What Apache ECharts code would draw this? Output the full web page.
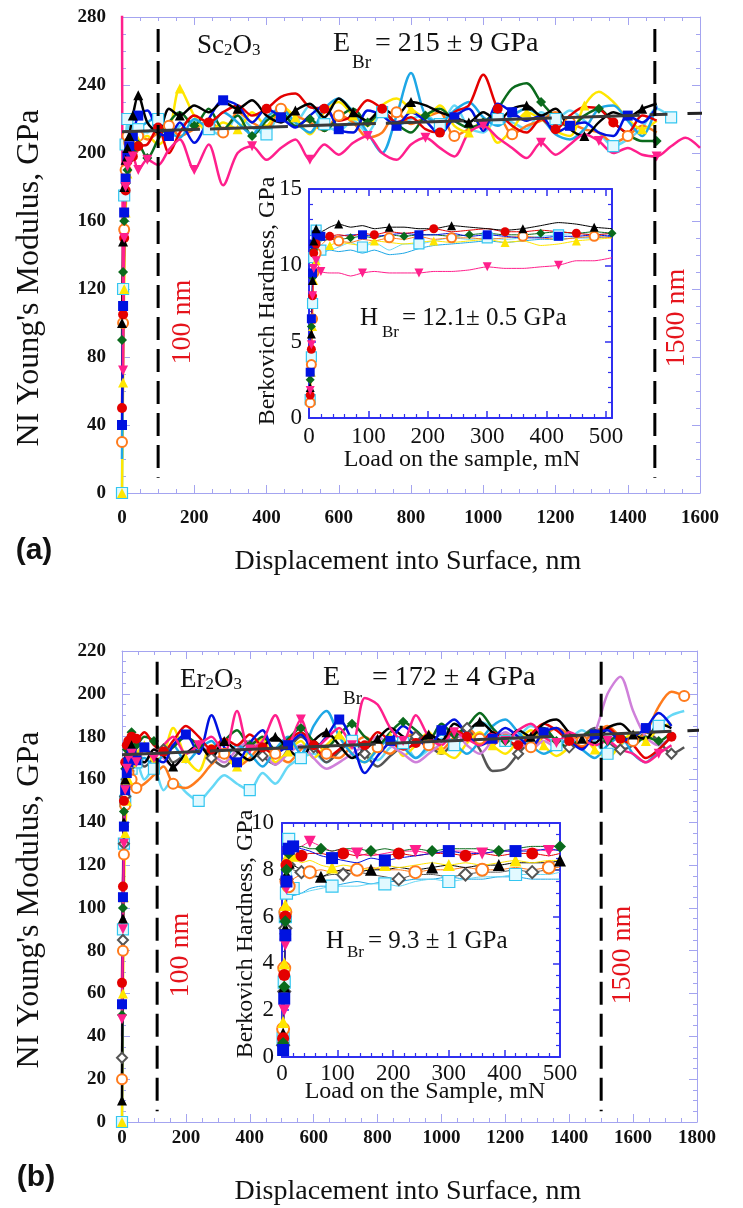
<!DOCTYPE html>
<html>
<head>
<meta charset="utf-8">
<script src="https://cdn.jsdelivr.net/npm/echarts@6/dist/echarts.min.js"></script>
<style>
html,body{margin:0;padding:0;background:#fff;}
#c{width:743px;height:1208px;}
</style>
</head>
<body>
<div id="c"></div>
<script>
// ---------- (a) Sc2O3 : modulus vs displacement ----------
const dispA = [0,3,6,10,15,20,30,45,70,100,130,160,200,240,280,320,360,400,440,480,520,560,600,640,680,720,760,800,840,880,920,960,1000,1040,1080,1120,1160,1200,1240,1280,1320,1360,1400,1440,1480,1520,1560,1600];
const blackA  = [100,148,180,196,203,210,222,234, 218,212,226,222, 228,224,230,226,231,222,218,225,229,221,232,224,219,226,222,230,228,224,221,218,224,219,226,228,222,226,214,210,218,224,221,226,229];
const blueA   = [40,110,165,185,198,204,210,222, 225,212,210,218, 206,220,231,228,218,226,221,215,222,228,214,212,225,222,216,224,219,211,221,226,213,229,224,219,222,212,216,218,212,210,222,218,227];
const cyanSqA = [0,120,175,205,220,210,205,214, 212,220,208,216, 219,214,210,222,215,211,224,218,228,217,213,219,212,224,216,220,222,217,228,215,212,220,218,214,224,220,225,219,212,204,208,215,226,221];
const redA    = [50,105,150,178,195,200,198,204, 205,215,200,212, 222,218,224,228,222,226,233,235,227,226,219,222,231,226,218,221,214,212,224,228,246,226,216,212,220,214,222,227,226,218,212,222,219];
const greenA  = [90,130,160,182,190,196,201,205, 197,208,218,224, 216,226,214,222,210,219,224,216,220,213,221,226,218,224,217,212,222,226,219,215,218,226,238,241,230,221,215,222,226,218,211,207,207];
const yellowA = [0,65,120,165,188,202,204,207, 210,205,212,238, 222,212,218,214,224,216,228,221,211,224,230,222,216,228,232,226,221,228,216,212,220,206,214,224,220,213,210,228,236,230,220,214,219];
const orangeA = [30,100,155,190,210,206,202,210, 208,212,216,210, 214,219,212,224,218,214,226,222,218,213,222,218,209,212,224,217,221,224,210,214,218,222,211,216,219,224,218,214,212,206,210,216,212];
const pinkA   = [300,72,150,180,192,195,198,190, 196,193,202,208, 190,205,181,200,204,196,203,208,196,205,199,206,210,200,196,205,209,203,198,212,216,209,203,197,206,199,205,211,207,200,203,199,198,204,209,203];
const skyA    = [20,90,150,185,200,210,212,215, 218,222,213,209, 220,215,224,218,211,221,226,218,212,226,232,224,212,200,222,247,222,218,225,230,221,216,222,226,221,211,208,214,226,228,219,210,228];
// fitted average line: inner part and its dashed extensions
const fitA      = [[0,212.5],[1510,222.8]];
const fitAOutL  = [[-235,210.9],[0,212.5]];
const fitAOutR  = [[1510,222.8],[1720,224.2]];
const markA     = [100,1475];   // depth window, nm

// ---------- (a) inset : hardness vs load ----------
const loadA = [2,4,6,8,12,20,35,50,70,90,110,135,160,185,210,240,270,300,330,360,390,420,450,480,510];
const blackIA  = [2.0,5.5,9.0,11.6,12.4,12.2,12.5,12.7,12.5,12.6,12.4,12.5,12.5,12.4,12.4,12.6,12.5,12.4,12.3,12.4,12.6,12.8,12.7,12.5,12.4];
const redIA    = [1.5,4.5,8.0,10.8,11.4,11.7,11.9,12.0,11.9,12.1,12.0,12.2,12.1,12.2,12.4,12.2,12.3,12.4,12.2,12.2,12.3,12.2,12.1,12.0,12.1];
const blueIA   = [3.0,6.5,9.5,11.4,12.0,11.9,11.8,11.9,12.0,12.0,11.9,12.0,12.1,12.0,12.0,12.1,11.9,12.0,11.9,11.8,11.8,11.9,11.9,12.0,11.9];
const greenIA  = [2.5,6.0,9.2,11.0,11.5,11.6,11.7,11.7,11.8,11.9,11.8,12.0,11.9,12.0,12.0,11.9,12.0,12.1,12.0,12.0,12.1,12.2,12.1,12.2,12.1];
const cyanSqIA = [1.2,4.0,7.5,10.5,12.3,11.0,11.0,11.2,11.5,11.2,11.5,11.0,11.4,11.4,11.6,11.8,11.7,11.8,11.7,11.8,11.9,12.0,12.1,12.0,12.1];
const orangeIA = [1.0,3.5,6.5,9.5,10.8,11.3,11.8,11.6,11.5,11.7,11.6,11.8,11.7,11.9,11.7,11.8,11.8,11.7,11.8,11.9,11.8,11.7,11.8,11.9,11.8];
const yellowIA = [1.3,3.0,6.0,9.0,10.3,10.8,11.3,11.5,11.4,11.3,11.6,11.5,11.4,11.5,11.6,11.5,11.6,11.7,11.5,11.6,11.3,11.4,11.6,11.7,11.8];
const skyIA    = [2.2,5.0,8.5,10.5,10.8,10.8,11.0,10.9,11.0,10.8,11.0,10.7,10.8,11.1,11.3,11.4,11.5,11.6,11.5,11.6,11.7,11.7,11.8,11.8,11.9];
const pinkIA   = [1.8,4.8,8.0,9.8,10.3,9.6,9.5,9.5,9.3,9.5,9.6,9.5,9.5,9.5,9.6,9.6,9.7,9.9,9.8,9.8,9.9,10.0,10.3,10.3,10.5];

// ---------- (b) Er2O3 : modulus vs displacement ----------
const dispB = [0,3,6,10,15,20,30,45,70,100,130,160,200,240,280,320,360,400,440,480,520,560,600,640,680,720,760,800,840,880,920,960,1000,1040,1080,1120,1160,1200,1240,1280,1320,1360,1400,1440,1480,1520,1560,1600,1640,1680,1720,1760];
const blackB  = [10,95,140,160,168,172,176,170, 168,174,171,166, 172,176,170,178,173,169,175,180,174,170,178,182,176,170,174,179,184,180,176,181,178,186,183,187,182,178,183,180,186,188,182,179,177,184,186,181,179,186,184];
const blueB   = [55,105,138,155,163,168,172,169, 175,170,168,176, 181,172,190,175,168,177,183,172,176,181,174,180,188,178,163,171,178,185,180,175,183,188,181,176,179,184,180,175,182,184,178,174,181,183,178,180,184,191,185];
const cyanSqB = [0,90,130,150,158,162,165,168, 160,165,155,160, 154,150,156,162,158,155,163,158,166,170,172,168,174,178,172,169,175,177,170,174,179,176,181,187,184,178,180,185,182,176,179,183,178,172,176,180,178,185,190,192];
const redB    = [65,110,150,168,176,178,180,179, 182,176,173,178, 185,180,174,179,176,181,175,172,178,182,176,170,174,179,176,182,178,174,177,181,178,183,180,177,182,179,176,181,186,183,178,175,180,184,179,176,170,174,180];
const greenB  = [50,100,145,165,174,178,182,176, 180,178,172,175, 180,176,172,178,183,176,180,174,179,184,178,175,181,186,180,176,182,187,183,178,186,181,185,191,184,178,176,180,184,178,175,180,183,178,181,176,180,178,182];
const yellowB = [0,60,105,135,150,160,168,172, 176,168,172,184, 170,164,176,171,166,174,179,168,173,178,170,176,181,172,168,175,180,171,176,182,174,170,177,182,176,172,178,183,176,171,175,180,174,170,176,182,178,184,186];
const orangeB = [20,80,125,148,158,163,160,156, 158,162,166,158, 156,160,167,172,166,170,176,172,168,174,178,172,170,176,180,175,172,178,182,176,174,180,184,179,176,181,178,175,180,184,181,178,182,185,180,178,182,194,201,199];
const pinkB   = [48,90,130,155,165,170,172,168, 174,170,176,180, 172,176,180,172,192,174,178,190,176,188,174,179,184,176,198,195,184,178,190,180,176,182,179,176,181,178,183,186,180,177,182,179,176,178,174,172,168,172,176];
const grayB   = [30,85,130,152,160,164,167,170, 166,170,174,168, 172,176,170,166,172,178,171,167,174,180,175,168,173,178,172,166,171,176,180,176,172,178,184,174,164,165,172,178,183,178,175,180,184,178,174,176,182,178,172,175];
const orchidB = [40,95,135,158,166,170,173,171, 168,174,170,166, 172,176,172,168,174,178,173,167,172,176,170,165,168,172,176,180,176,172,168,172,177,182,176,172,178,182,178,174,178,175,180,176,182,200,208,192,180,176,180];
const skyB    = [20,85,130,152,160,163,166,168, 170,166,172,176, 168,174,178,170,176,172,166,174,180,172,185,192,180,172,168,174,179,175,170,176,181,177,172,178,185,188,182,176,172,175,179,174,170,176,180,172,168,174,180];
const fitB      = [[0,171.5],[1720,182.5]];
const fitBOutL  = [[-210,170.2],[0,171.5]];
const fitBOutR  = [[1720,182.5],[1950,183.8]];
const markB     = [110,1500];

// ---------- (b) inset : hardness vs load ----------
const loadB = [2,4,6,8,12,20,35,50,70,90,110,135,160,185,210,240,270,300,330,360,390,420,450,480,500];
const blueIB   = [0.3,2.5,5.2,7.5,8.9,9.0,8.9,8.8,8.6,8.5,8.4,8.3,8.5,8.4,8.5,8.6,8.7,8.8,8.7,8.7,8.8,8.8,8.8,8.9,8.8];
const greenIB  = [0.6,3.0,5.8,8.0,8.7,8.9,9.0,8.9,8.9,8.8,8.9,8.9,8.8,8.9,8.8,8.9,8.8,8.9,8.9,8.9,8.8,8.9,9.0,9.0,9.0];
const pinkIB   = [0.4,2.0,4.8,7.2,8.7,8.9,9.0,9.2,9.0,8.8,8.9,8.7,8.6,8.7,8.8,8.8,8.7,8.8,8.8,8.7,8.8,8.8,8.9,8.8,8.9];
const redIB    = [0.8,3.5,6.0,8.2,8.8,8.7,8.6,8.7,8.7,8.6,8.7,8.6,8.7,8.6,8.7,8.6,8.7,8.7,8.6,8.7,8.6,8.7,8.7,8.6,8.7];
const yellowIB = [1.5,4.0,6.5,8.5,9.0,8.6,8.3,8.4,8.2,8.1,8.2,8.1,8.0,8.2,8.1,8.2,8.3,8.2,8.3,8.2,8.3,8.4,8.3,8.4,8.4];
const blackIB  = [1.0,3.0,5.5,7.8,8.3,8.2,8.0,7.8,7.7,7.9,8.0,7.9,8.0,8.0,8.1,8.0,8.1,8.2,8.1,8.2,8.2,8.3,8.3,8.3,8.4];
const orangeIB = [1.2,3.8,6.2,7.5,7.3,7.6,7.8,7.9,8.0,7.9,8.0,8.0,8.1,8.0,8.0,7.9,8.0,8.0,8.1,8.0,8.0,8.1,8.0,8.1,8.1];
const grayIB   = [0.5,2.8,5.5,7.6,8.2,8.0,7.9,7.7,7.7,7.8,7.8,7.9,7.8,7.7,7.6,7.8,7.8,7.7,7.8,7.9,7.9,8.0,7.9,8.0,8.0];
const cyanSqIB = [0.8,3.2,6.0,7.0,9.3,7.2,7.0,7.1,7.2,7.3,7.3,7.3,7.4,7.4,7.3,7.5,7.6,7.5,7.6,7.7,7.7,7.8,7.8,7.8,7.9];
const skyIB    = [0.6,2.2,4.5,6.5,7.0,6.9,7.0,7.2,7.3,7.3,7.4,7.5,7.4,7.5,7.5,7.6,7.6,7.7,7.6,7.6,7.7,7.7,7.6,7.6,7.6];

// ---------- styling ----------
const SERIF = '"Liberation Serif","Times New Roman",serif';
const C = {
  black:  {symbol:'triangle', fill:'#000000', line:'#000000'},
  blue:   {symbol:'rect', fill:'#0012e0', line:'#0012e0'},
  cyanSq: {symbol:'rect', fill:'#e2f9ff', border:'#34c6f0', bw:1.2, line:'#66d8f6'},
  red:    {symbol:'circle', fill:'#e40000', line:'#e40000'},
  green:  {symbol:'diamond', fill:'#0a6a1c', line:'#0a6a1c'},
  yellow: {symbol:'triangle', fill:'#ffe600', line:'#ffe600'},
  orange: {symbol:'emptyCircle', fill:'#ff7b1c', line:'#ff7b1c', bw:1.5},
  pink:   {symbol:'triangle', rot:180, fill:'#ff1f8c', line:'#ff1f8c'},
  sky:    {symbol:null, fill:'#1ea7e6', line:'#1ea7e6'},
  gray:   {symbol:'emptyDiamond', fill:'#555555', line:'#555555', bw:1.5},
  orchid: {symbol:null, fill:'#cf80da', line:'#cf80da'}
};

// one line series; markers on the loading ramp and then on every n-th point
function mk(grid, xs, ys, c, o) {
  const data = [];
  for (let i = 0; i < ys.length; i++) {
    const mark = c.symbol && (i < o.ramp || (i - o.off) % o.every === 0);
    data.push({value: [xs[i], ys[i]], symbol: mark ? c.symbol : 'none'});
  }
  return {
    type: 'line', xAxisIndex: grid * 2, yAxisIndex: grid * 2, data: data,
    showSymbol: true, showAllSymbol: true,
    symbolSize: o.size, symbolRotate: c.rot || 0,
    smooth: o.smooth,
    lineStyle: {color: c.line, width: o.width},
    itemStyle: {color: c.fill, borderColor: c.border || c.fill, borderWidth: c.bw || 0},
    z: o.z || 3, silent: true, animation: false
  };
}
function seg(grid, pts, color, width, dash, offset, clip, z) {
  return {
    type: 'line', xAxisIndex: grid * 2, yAxisIndex: grid * 2, data: pts,
    showSymbol: false, clip: clip, silent: true, animation: false, z: z || 6,
    lineStyle: {color: color, width: width, type: dash, dashOffset: offset || 0}
  };
}

const mainA = {ramp: 8, every: 4, size: 10, width: 2.5, smooth: 0.3};
const mainB = {ramp: 8, every: 4, size: 10, width: 2.5, smooth: 0.3};
const insA  = {ramp: 5, every: 4, size: 9, width: 1, smooth: 0.2};
const insB  = {ramp: 5, every: 4, size: 12, width: 1, smooth: 0.2};
const w = (o, off, extra) => Object.assign({}, o, {off: off}, extra || {});

const series = [
  // (a) main
  mk(0, dispA, cyanSqA, C.cyanSq, w(mainA, 1, {size: 11})),
  mk(0, dispA, orangeA, C.orange, w(mainA, 2)),
  mk(0, dispA, yellowA, C.yellow, w(mainA, 3)),
  mk(0, dispA, greenA,  C.green,  w(mainA, 0)),
  mk(0, dispA, skyA,    C.sky,    w(mainA, 0)),
  mk(0, dispA, redA,    C.red,    w(mainA, 1)),
  mk(0, dispA, blueA,   C.blue,   w(mainA, 2)),
  mk(0, dispA, blackA,  C.black,  w(mainA, 3)),
  mk(0, dispA, pinkA,   C.pink,   w(mainA, 0)),
  seg(0, fitA, '#3a3a3a', 3, [78, 10], 0, false, 8),
  seg(0, fitAOutL, '#222', 3, [12, 46, 24, 60], 0, false, 8),
  seg(0, fitAOutR, '#222', 3, [32, 20], 32, false, 8),
  seg(0, [[markA[0], 273], [markA[0], 9]], '#000', 3, [23, 9], 0, false, 9),
  seg(0, [[markA[1], 273], [markA[1], 9]], '#000', 3, [23, 9], 0, false, 9),
  // (a) inset
  mk(1, loadA, skyIA,    C.sky,    w(insA, 0)),
  mk(1, loadA, cyanSqIA, C.cyanSq, w(insA, 1, {size: 10})),
  mk(1, loadA, yellowIA, C.yellow, w(insA, 2)),
  mk(1, loadA, orangeIA, C.orange, w(insA, 3)),
  mk(1, loadA, greenIA,  C.green,  w(insA, 0)),
  mk(1, loadA, blueIA,   C.blue,   w(insA, 1)),
  mk(1, loadA, redIA,    C.red,    w(insA, 2)),
  mk(1, loadA, blackIA,  C.black,  w(insA, 3)),
  mk(1, loadA, pinkIA,   C.pink,   w(insA, 1)),
  // (b) main
  mk(2, dispB, cyanSqB, C.cyanSq, w(mainB, 1, {size: 11})),
  mk(2, dispB, grayB,   C.gray,   w(mainB, 2)),
  mk(2, dispB, orangeB, C.orange, w(mainB, 3)),
  mk(2, dispB, yellowB, C.yellow, w(mainB, 0)),
  mk(2, dispB, orchidB, C.orchid, w(mainB, 0)),
  mk(2, dispB, skyB,    C.sky,    w(mainB, 0)),
  mk(2, dispB, greenB,  C.green,  w(mainB, 1)),
  mk(2, dispB, redB,    C.red,    w(mainB, 2)),
  mk(2, dispB, blackB,  C.black,  w(mainB, 3)),
  mk(2, dispB, blueB,   C.blue,   w(mainB, 0)),
  mk(2, dispB, pinkB,   C.pink,   w(mainB, 1)),
  seg(2, fitB, '#3a3a3a', 3, [78, 10], 0, false, 8),
  seg(2, fitBOutL, '#222', 3, [4, 20, 32, 60], 0, false, 8),
  seg(2, fitBOutR, '#222', 3, [32, 16], 32, false, 8),
  seg(2, [[markB[0], 215], [markB[0], 5]], '#000', 3, [23, 9], 0, false, 9),
  seg(2, [[markB[1], 215], [markB[1], 5]], '#000', 3, [23, 9], 0, false, 9),
  // (b) inset
  mk(3, loadB, skyIB,    C.sky,    w(insB, 0)),
  mk(3, loadB, cyanSqIB, C.cyanSq, w(insB, 1)),
  mk(3, loadB, grayIB,   C.gray,   w(insB, 2)),
  mk(3, loadB, orangeIB, C.orange, w(insB, 3)),
  mk(3, loadB, blackIB,  C.black,  w(insB, 0)),
  mk(3, loadB, yellowIB, C.yellow, w(insB, 1)),
  mk(3, loadB, redIB,    C.red,    w(insB, 2)),
  mk(3, loadB, pinkIB,   C.pink,   w(insB, 3)),
  mk(3, loadB, greenIB,  C.green,  w(insB, 0)),
  mk(3, loadB, blueIB,   C.blue,   w(insB, 1))
];

// ---------- axes ----------
const mainLine = {color: '#a4a4f0', width: 1};
const insLine  = {color: '#2f2ff0', width: 2};
const plain = (v) => String(v);
function ax(grid, pos, min, max, interval, minor, frame, label) {
  const main = frame === 'main';
  const ls = main ? mainLine : insLine;
  return {
    gridIndex: grid, type: 'value', position: pos, min: min, max: max, interval: interval,
    axisLine: {show: true, onZero: false, lineStyle: ls},
    axisTick: {show: true, inside: true, length: main ? 8 : 7, lineStyle: {color: ls.color, width: main ? 1 : 1.5}},
    minorTick: {show: true, splitNumber: minor, length: 4, lineStyle: {color: ls.color, width: main ? 1 : 1.2}},
    splitLine: {show: false}, minorSplitLine: {show: false},
    axisLabel: label ? Object.assign({show: true, color: '#111', formatter: plain}, label) : {show: false}
  };
}
const mainLbl = (m) => ({fontFamily: SERIF, fontWeight: 'bold', fontSize: 19, margin: m});
const insLbl  = (m) => ({fontFamily: SERIF, fontSize: 23, margin: m});

const xAxis = [
  ax(0, 'bottom', 0, 1600, 200, 4, 'main', mainLbl(16)),
  ax(0, 'top',    0, 1600, 200, 4, 'main', null),
  ax(1, 'bottom', 0, 510, 100, 5, 'ins', Object.assign(insLbl(7), {showMaxLabel: false})),
  ax(1, 'top',    0, 510, 100, 5, 'ins', null),
  ax(2, 'bottom', 0, 1800, 200, 4, 'main', mainLbl(7)),
  ax(2, 'top',    0, 1800, 200, 4, 'main', null),
  ax(3, 'bottom', 0, 500, 100, 5, 'ins', insLbl(5)),
  ax(3, 'top',    0, 500, 100, 5, 'ins', null)
];
const yAxis = [
  ax(0, 'left',  0, 280, 40, 4, 'main', mainLbl(16)),
  ax(0, 'right', 0, 280, 40, 4, 'main', null),
  ax(1, 'left',  0, 15, 5, 5, 'ins', insLbl(7)),
  ax(1, 'right', 0, 15, 5, 5, 'ins', null),
  ax(2, 'left',  0, 220, 20, 4, 'main', mainLbl(16)),
  ax(2, 'right', 0, 220, 20, 4, 'main', null),
  ax(3, 'left',  0, 10, 2, 4, 'ins', insLbl(8)),
  ax(3, 'right', 0, 10, 2, 4, 'ins', null)
];

// ---------- text ----------
function txt(t, x, y, size, opts) {
  opts = opts || {};
  return {
    type: 'text', x: x, y: y, rotation: opts.rot || 0, z: 20, silent: true,
    style: {
      text: t, fill: opts.color || '#111',
      font: (opts.weight || 'normal') + ' ' + size + 'px ' + (opts.family || SERIF),
      align: opts.align || 'center', verticalAlign: 'middle'
    }
  };
}
const V = Math.PI / 2;
const RED = '#e5141c';
const formula = (x, y, sym, size) => ({
  type: 'text', x: x, y: y, z: 20, silent: true,
  style: {
    text: '{n|' + sym[0] + '}{s|' + sym[1] + '}{n|' + sym[2] + '}{s|' + sym[3] + '}',
    align: 'left', verticalAlign: 'middle',
    rich: {
      n: {font: size + 'px ' + SERIF, fill: '#111', verticalAlign: 'bottom', lineHeight: size + 4},
      s: {font: Math.round(size * 0.62) + 'px ' + SERIF, fill: '#111', verticalAlign: 'bottom', lineHeight: size + 4}
    }
  }
});

const graphic = [
  // panel (a)
  txt("NI Young's Modulus, GPa", 30, 278, 32, {rot: V}),
  txt('Displacement into Surface, nm', 408, 562, 28),
  txt('(a)', 34, 551, 30, {weight: 'bold', family: '"Liberation Sans",Arial,sans-serif'}),
  formula(197, 44, ['Sc', '2', 'O', '3'], 27),
  txt('E', 333, 44, 28, {align: 'left'}),
  txt('Br', 352, 63, 19, {align: 'left'}),
  txt('= 215 \u00b1 9 GPa', 375, 44, 28, {align: 'left'}),
  txt('100 nm', 183, 322, 28, {rot: V, color: RED}),
  txt('1500 nm', 677, 318, 28, {rot: V, color: RED}),
  txt('Berkovich Hardness, GPa', 268, 301, 24, {rot: V}),
  txt('Load on the sample, mN', 462, 460, 24),
  txt('H', 360, 318, 25, {align: 'left'}),
  txt('Br', 382, 333, 17, {align: 'left'}),
  txt('= 12.1\u00b1 0.5 GPa', 402, 318, 25, {align: 'left'}),
  // panel (b)
  txt("NI Young's Modulus, GPa", 30, 900, 32, {rot: V}),
  txt('Displacement into Surface, nm', 408, 1192, 28),
  txt('(b)', 36, 1178, 30, {weight: 'bold', family: '"Liberation Sans",Arial,sans-serif'}),
  formula(180, 678, ['Er', '2', 'O', '3'], 27),
  txt('E', 323, 678, 28, {align: 'left'}),
  txt('Br', 343, 699, 19, {align: 'left'}),
  txt('= 172 \u00b1 4 GPa', 372, 678, 28, {align: 'left'}),
  txt('100 nm', 181, 955, 28, {rot: V, color: RED}),
  txt('1500 nm', 623, 955, 28, {rot: V, color: RED}),
  txt('Berkovich Hardness, GPa', 246, 934, 24, {rot: V}),
  txt('Load on the Sample, mN', 425, 1092, 24),
  txt('H', 326, 941, 25, {align: 'left'}),
  txt('Br', 347, 953, 17, {align: 'left'}),
  txt('= 9.3 \u00b1 1 GPa', 368, 941, 25, {align: 'left'})
];

const chart = echarts.init(document.getElementById('c'), null, {renderer: 'canvas'});
chart.setOption({
  backgroundColor: '#ffffff',
  animation: false,
  grid: [
    {left: 122, top: 17, width: 578, height: 476},
    {left: 309, top: 189, width: 303, height: 229},
    {left: 122, top: 651, width: 575, height: 471},
    {left: 282, top: 823, width: 278, height: 234}
  ],
  xAxis: xAxis,
  yAxis: yAxis,
  series: series,
  graphic: graphic
});
</script>
</body>
</html>
